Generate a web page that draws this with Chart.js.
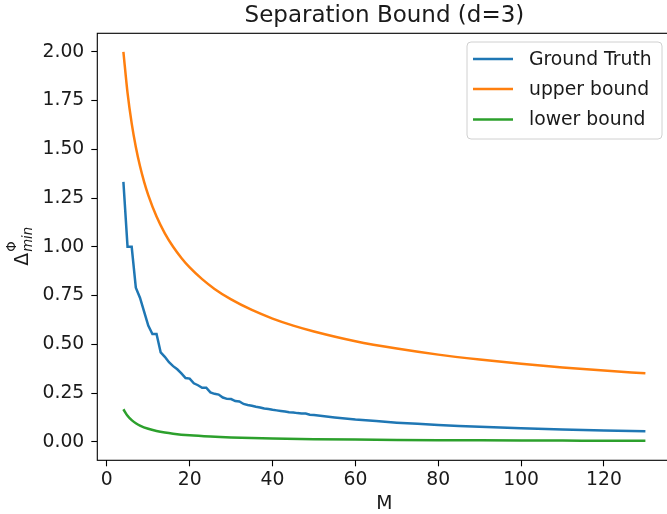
<!DOCTYPE html>
<html>
<head>
<meta charset="utf-8">
<script src="https://cdn.jsdelivr.net/npm/chart.js@4.4.1/dist/chart.umd.min.js"></script>
<style>
  html, body { margin: 0; padding: 0; background: #fff; overflow: hidden; }
  #wrap { width: 680px; height: 514px; position: relative; }
</style>
</head>
<body>
<div id="wrap"><canvas id="sepChart"></canvas></div>
<script>
'use strict';

// values
var truthM = [4, 5, 6, 7, 8, 9, 10, 11, 12, 13, 14, 15, 16, 17, 18, 19, 20, 21, 22, 23, 24, 25, 26, 27, 28, 29, 30,
  31, 32, 33, 34, 35, 36, 37, 38, 39, 40, 41, 42, 43, 44, 45, 46, 47, 48, 49, 50,
  55, 60, 65, 70, 75, 80, 85, 90, 95, 100, 110, 120, 130];
var groundTruth = [1.333, 1.000, 1.000, 0.790, 0.739, 0.667, 0.596, 0.553, 0.553, 0.458, 0.436, 0.408, 0.388, 0.372,
  0.351, 0.327, 0.324, 0.300, 0.290, 0.277, 0.277, 0.253, 0.246, 0.242, 0.227, 0.220, 0.219,
  0.209, 0.207, 0.194, 0.189, 0.185, 0.180, 0.176, 0.171, 0.168, 0.164, 0.161, 0.158, 0.155, 0.152, 0.150, 0.147,
  0.145, 0.145, 0.139, 0.137,
  0.125, 0.114, 0.106, 0.098, 0.092, 0.086, 0.081, 0.077, 0.073, 0.069, 0.063, 0.058, 0.054];

var upperM = [4, 5, 6, 7, 8, 9, 10, 12, 14, 16, 18, 20, 23, 26, 30, 35, 40, 45, 50, 60, 70, 80, 90, 100, 110, 120, 130];
var upperBound = [2.000, 1.789, 1.633, 1.512, 1.414, 1.333, 1.265, 1.155, 1.069, 1.000, 0.943, 0.894, 0.834, 0.784,
  0.730, 0.676, 0.632, 0.596, 0.566, 0.516, 0.478, 0.447, 0.422, 0.400, 0.381, 0.365, 0.351];

var lowerM = [4, 5, 6, 7, 8, 10, 12, 14, 16, 20, 25, 30, 40, 50, 60, 70, 80, 90, 100, 110, 120, 130];
var lowerBound = [0.1667, 0.1333, 0.1111, 0.0952, 0.0833, 0.0667, 0.0556, 0.0476, 0.0417, 0.0333, 0.0267, 0.0222,
  0.0167, 0.0133, 0.0111, 0.0095, 0.0083, 0.0074, 0.0067, 0.0061, 0.0056, 0.0051];

var xTicks = [0, 20, 40, 60, 80, 100, 120];
var yTicks = [0, 0.25, 0.5, 0.75, 1.0, 1.25, 1.5, 1.75, 2.0];

var FONT = "'DejaVu Sans', sans-serif";
var INK = '#1a1a1a';
var FS = 18.8;

function pairs(xs, ys) {
  var out = [];
  for (var i = 0; i < xs.length; i++) {
    out.push({x: xs[i], y: ys[i]});
  }
  return out;
}

// title, axis labels, frame and matplotlib-ish legend
var decorations = {
  id: 'decorations',
  afterDraw: function(chart) {
    var ctx = chart.ctx;
    var a = chart.chartArea;
    ctx.save();

    // frame
    ctx.strokeStyle = '#000';
    ctx.lineWidth = 1.1;
    ctx.strokeRect(a.left, a.top, a.right - a.left, a.bottom - a.top);

    ctx.fillStyle = INK;
    ctx.textAlign = 'center';
    ctx.textBaseline = 'middle';

    // title
    ctx.font = '23px ' + FONT;
    ctx.fillText('Separation Bound (d=3)', (a.left + a.right) / 2, 16);

    // x label
    ctx.font = FS + 'px ' + FONT;
    ctx.fillText('M', (a.left + a.right) / 2, 504);

    // y label: Delta with sup Phi and sub "min"
    ctx.save();
    ctx.translate(21, (a.top + a.bottom) / 2);
    ctx.rotate(-Math.PI / 2);
    ctx.textAlign = 'left';
    ctx.textBaseline = 'alphabetic';
    ctx.font = FS + 'px ' + FONT;
    var dW = ctx.measureText('\u0394').width;
    ctx.font = 'italic 13.2px ' + FONT;
    var subW = ctx.measureText('min').width;
    var x0 = -(dW + subW) / 2;
    ctx.font = FS + 'px ' + FONT;
    ctx.fillText('\u0394', x0, 7);
    ctx.font = '13.2px ' + FONT;
    ctx.fillText('\u03A6', x0 + dW + 1, -5);
    ctx.font = 'italic 13.2px ' + FONT;
    ctx.fillText('min', x0 + dW + 1, 11);
    ctx.restore();

    // legend
    var bx = 467, by = 42, bw = 195, bh = 97, r = 4;
    ctx.beginPath();
    ctx.moveTo(bx + r, by);
    ctx.arcTo(bx + bw, by, bx + bw, by + bh, r);
    ctx.arcTo(bx + bw, by + bh, bx, by + bh, r);
    ctx.arcTo(bx, by + bh, bx, by, r);
    ctx.arcTo(bx, by, bx + bw, by, r);
    ctx.closePath();
    ctx.fillStyle = 'rgba(255,255,255,0.8)';
    ctx.fill();
    ctx.strokeStyle = '#d0d0d0';
    ctx.lineWidth = 1;
    ctx.stroke();

    ctx.font = FS + 'px ' + FONT;
    ctx.textAlign = 'left';
    ctx.textBaseline = 'middle';
    var rows = [59, 89, 119.5];
    chart.data.datasets.forEach(function(ds, i) {
      ctx.strokeStyle = ds.borderColor;
      ctx.lineWidth = 2.5;
      ctx.beginPath();
      ctx.moveTo(473, rows[i]);
      ctx.lineTo(513, rows[i]);
      ctx.stroke();
      ctx.fillStyle = INK;
      ctx.fillText(ds.label, 529, rows[i] + 1);
    });

    ctx.restore();
  }
};

var ctx = document.getElementById('sepChart').getContext('2d');
var sepChart = new Chart(ctx, {
  type: 'line',
  data: {
    datasets: [{
      label: 'Ground Truth',
      data: pairs(truthM, groundTruth),
      borderColor: '#1f77b4',
      borderWidth: 2.5,
      pointRadius: 0,
      tension: 0
    }, {
      label: 'upper bound',
      data: pairs(upperM, upperBound),
      borderColor: '#ff7f0e',
      borderWidth: 2.5,
      pointRadius: 0,
      cubicInterpolationMode: 'monotone'
    }, {
      label: 'lower bound',
      data: pairs(lowerM, lowerBound),
      borderColor: '#2ca02c',
      borderWidth: 2.5,
      pointRadius: 0,
      cubicInterpolationMode: 'monotone'
    }]
  },
  options: {
    responsive: true,
    maintainAspectRatio: false,
    animation: false,
    layout: { padding: { left: 0, right: 8.5, top: 33.3, bottom: 0 } },
    plugins: {
      legend: { display: false },
      title: { display: false },
      tooltip: { enabled: false }
    },
    scales: {
      x: {
        type: 'linear',
        min: -2.3,
        max: 136.3,
        afterFit: function(s) { s.height = 53.7; },
        afterBuildTicks: function(s) { s.ticks = xTicks.map(function(v) { return {value: v}; }); },
        border: { display: false },
        grid: { drawOnChartArea: false, drawTicks: true, tickLength: 6, tickColor: '#000', tickWidth: 1.1 },
        ticks: {
          font: { family: FONT, size: FS },
          color: INK,
          padding: 3,
          maxRotation: 0,
          callback: function(v) { return v; }
        }
      },
      y: {
        type: 'linear',
        min: -0.095,
        max: 2.095,
        afterFit: function(s) { s.width = 97.3; },
        afterBuildTicks: function(s) { s.ticks = yTicks.map(function(v) { return {value: v}; }); },
        border: { display: false },
        grid: { drawOnChartArea: false, drawTicks: true, tickLength: 6, tickColor: '#000', tickWidth: 1.1 },
        ticks: {
          font: { family: FONT, size: FS },
          color: INK,
          padding: 7,
          callback: function(v) { return v.toFixed(2); }
        }
      }
    }
  },
  plugins: [decorations]
});
</script>
</body>
</html>
